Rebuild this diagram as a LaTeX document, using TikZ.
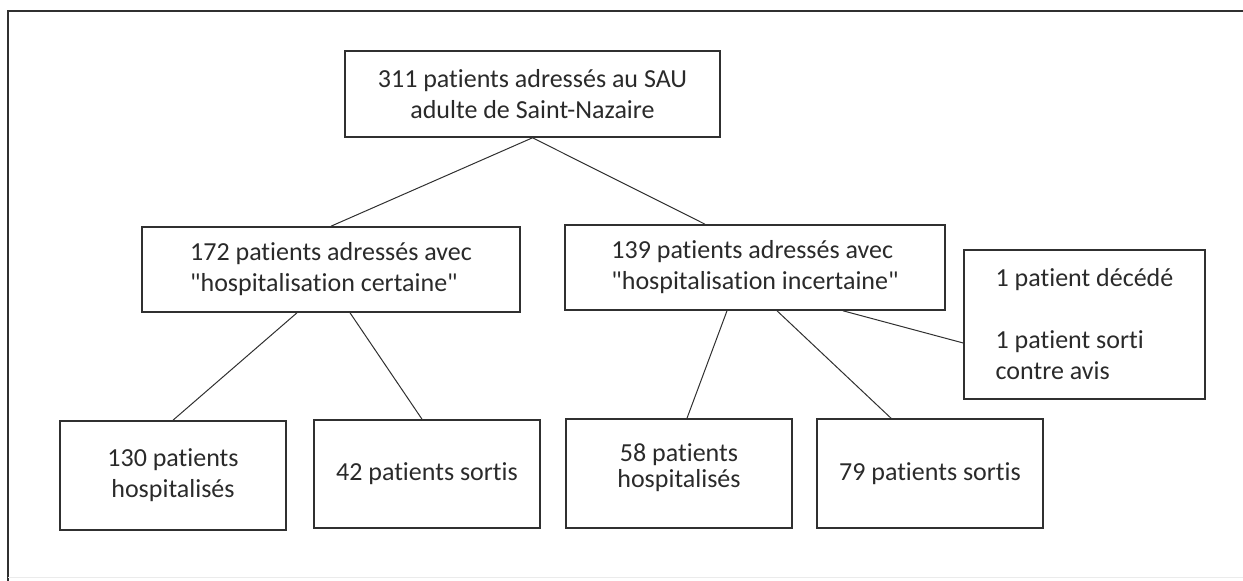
\documentclass[tikz,border=0pt]{standalone}
\usepackage{fontspec}
\setmainfont{Carlito}[Ligatures=NoCommon]
\usepackage{tikz}
\usetikzlibrary{calc}
\definecolor{boxline}{HTML}{303030}
\definecolor{boxtext}{HTML}{2A2A2A}

\begin{document}
\begin{tikzpicture}[x=0.5pt,y=-0.5pt]
\tikzstyle{every node}+=[inner sep=0pt, font=\fontsize{13}{15.5}\selectfont, text=boxtext]
\tikzstyle{box}=[draw=boxline, line width=0.8pt, rectangle]
\tikzstyle{link}=[draw=boxline, line width=0.5pt]
\useasboundingbox (0,0) rectangle (1243,581);
\draw [boxline, line width=1pt] (8,581) -- (8,11) -- (1243,11);
\draw [black!8, line width=0.5pt] (8,578) -- (1243,578);
\node [box, minimum width=187.5pt, minimum height=43pt, align=center] (total) at (532.5,94) {311 patients adressés au SAU\\adulte de Saint-Nazaire};
\node [box, minimum width=189pt, minimum height=42.5pt, align=left] (certaine) at (331,269.5) {172 patients adressés avec\\\textquotedbl hospitalisation certaine\textquotedbl};
\node [box, minimum width=190pt, minimum height=42.5pt, align=left] (incertaine) at (755,267.5) {139 patients adressés avec\\\textquotedbl hospitalisation incertaine\textquotedbl};
\node [box, minimum width=120.5pt, minimum height=74.5pt, align=left] (autres) at (1084.5,324.5) {1 patient décédé\\[15.5pt]1 patient sorti\\contre avis};
\node [box, minimum width=113pt, minimum height=54.5pt, align=center] (hospA) at (173,475.5) {130 patients\\hospitalisés};
\node [box, minimum width=113pt, minimum height=54pt, align=center] (sortisA) at (427,474) {42 patients sortis};
\node [box, minimum width=113pt, minimum height=54.5pt, align=center] (hospB) at (679,473.5) {58 patients\\[-2.5pt]hospitalisés\\[-7.5pt]\mbox{}};
\node [box, minimum width=113pt, minimum height=54.5pt, align=center] (sortisB) at (930,473.5) {79 patients sortis};
\draw [link] (total.south) -- (certaine.north);
\draw [link] (total.south) -- ([xshift=-25pt]incertaine.north);
\draw [link] ([xshift=-17pt]certaine.south) -- (hospA.north);
\draw [link] ([xshift=9.5pt]certaine.south) -- ([xshift=-2.5pt]sortisA.north);
\draw [link] ([xshift=-14pt]incertaine.south) -- ([xshift=4pt]hospB.north);
\draw [link] ([xshift=11pt]incertaine.south) -- ([xshift=-19.5pt]sortisB.north);
\draw [link] ([xshift=44pt]incertaine.south) -- ([yshift=-9.25pt]autres.west);
\end{tikzpicture}
\end{document}
